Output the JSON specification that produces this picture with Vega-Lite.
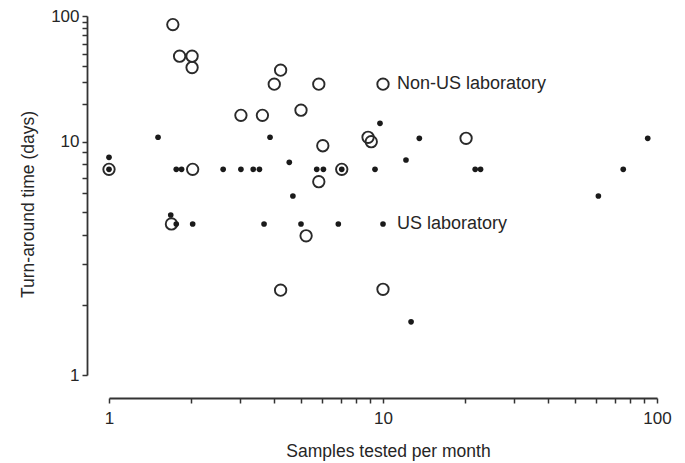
{
  "$schema": "https://vega.github.io/schema/vega-lite/v6.json",
  "width": 548,
  "height": 359,
  "autosize": {"type": "none"},
  "padding": {"left": 109, "top": 16, "right": 28, "bottom": 88},
  "background": "white",
  "config": {
    "view": {"stroke": null},
    "font": "Liberation Sans",
    "axis": {
      "domainColor": "#333",
      "domainWidth": 1.8,
      "tickColor": "#333",
      "tickWidth": 1.5,
      "tickSize": 5,
      "grid": false,
      "labelFont": "Liberation Sans",
      "labelFontSize": 17,
      "labelColor": "#262626",
      "titleFont": "Liberation Sans",
      "titleFontSize": 17.5,
      "titleFontWeight": "normal",
      "titleColor": "#262626"
    }
  },
  "datasets": {
    "nonus": [
      {"samples": 1.71, "tat": 85.4},
      {"samples": 1.81, "tat": 47.9},
      {"samples": 2.01, "tat": 47.9},
      {"samples": 2.01, "tat": 38.9},
      {"samples": 4.23, "tat": 37.1},
      {"samples": 4.01, "tat": 28.7},
      {"samples": 5.83, "tat": 28.7},
      {"samples": 3.03, "tat": 16.2},
      {"samples": 3.63, "tat": 16.2},
      {"samples": 5.02, "tat": 17.8},
      {"samples": 6.03, "tat": 9.61},
      {"samples": 8.82, "tat": 10.84},
      {"samples": 9.06, "tat": 10.0},
      {"samples": 1.0, "tat": 7.61},
      {"samples": 2.02, "tat": 7.61},
      {"samples": 7.07, "tat": 7.61},
      {"samples": 5.83, "tat": 6.74},
      {"samples": 1.69, "tat": 4.44},
      {"samples": 5.24, "tat": 3.95},
      {"samples": 4.23, "tat": 2.31},
      {"samples": 10.0, "tat": 2.33},
      {"samples": 20.1, "tat": 10.64}
    ],
    "us": [
      {"samples": 1.0, "tat": 8.57},
      {"samples": 1.0, "tat": 7.61},
      {"samples": 1.51, "tat": 10.84},
      {"samples": 1.76, "tat": 7.61},
      {"samples": 1.84, "tat": 7.61},
      {"samples": 2.61, "tat": 7.61},
      {"samples": 3.03, "tat": 7.61},
      {"samples": 3.36, "tat": 7.61},
      {"samples": 3.54, "tat": 7.61},
      {"samples": 3.87, "tat": 10.84},
      {"samples": 4.55, "tat": 8.16},
      {"samples": 5.73, "tat": 7.61},
      {"samples": 6.06, "tat": 7.61},
      {"samples": 7.07, "tat": 7.61},
      {"samples": 9.35, "tat": 7.61},
      {"samples": 9.75, "tat": 14.0},
      {"samples": 4.69, "tat": 5.85},
      {"samples": 1.68, "tat": 4.85},
      {"samples": 1.76, "tat": 4.44},
      {"samples": 2.02, "tat": 4.44},
      {"samples": 3.68, "tat": 4.44},
      {"samples": 5.02, "tat": 4.44},
      {"samples": 6.87, "tat": 4.44},
      {"samples": 12.66, "tat": 1.69},
      {"samples": 13.57, "tat": 10.64},
      {"samples": 12.13, "tat": 8.35},
      {"samples": 21.7, "tat": 7.61},
      {"samples": 22.7, "tat": 7.61},
      {"samples": 61.1, "tat": 5.85},
      {"samples": 75.3, "tat": 7.61},
      {"samples": 92.5, "tat": 10.64}
    ],
    "median": [{"tat": 10.9}],
    "legendNonUS": [{"samples": 10, "tat": 28.7, "label": "Non-US laboratory"}],
    "legendUS": [{"samples": 10, "tat": 4.44, "label": "US laboratory"}]
  },
  "encoding": {
    "x": {
      "field": "samples",
      "type": "quantitative",
      "title": "Samples tested per month",
      "scale": {"type": "log", "domain": [1, 100], "nice": false, "zero": false},
      "axis": {
        "offset": 23,
        "values": [1, 2, 3, 4, 5, 6, 7, 8, 9, 10, 20, 30, 40, 50, 60, 70, 80, 90, 100],
        "labelExpr": "datum.value == 1 || datum.value == 10 || datum.value == 100 ? format(datum.value, 'd') : ''",
        "labelPadding": 7,
        "titlePadding": 16,
        "titleX": 279,
        "labelFlush": false,
        "labelOverlap": false
      }
    },
    "y": {
      "field": "tat",
      "type": "quantitative",
      "title": "Turn-around time (days)",
      "scale": {"type": "log", "domain": [1, 10, 100], "range": [359, 125.7, 0], "nice": false, "zero": false},
      "axis": {
        "offset": 22,
        "values": [1, 2, 3, 4, 5, 6, 7, 8, 9, 10, 20, 30, 40, 50, 60, 70, 80, 90, 100],
        "labelExpr": "datum.value == 1 || datum.value == 10 || datum.value == 100 ? format(datum.value, 'd') : ''",
        "labelPadding": 3,
        "titlePadding": 13,
        "titleY": 188,
        "labelFlush": false,
        "labelOverlap": false
      }
    }
  },
  "layer": [
    {
      "data": {"name": "median"},
      "mark": {"type": "rule", "strokeDash": [6, 3.5], "strokeWidth": 1.6, "color": "#333", "clip": false},
      "encoding": {
        "x": {"datum": 0.89},
        "x2": {"datum": 105}
      }
    },
    {
      "data": {"name": "nonus"},
      "mark": {"type": "point", "shape": "circle", "filled": false, "size": 130, "strokeWidth": 1.9, "color": "#2a2a2a", "opacity": 1}
    },
    {
      "data": {"name": "us"},
      "mark": {"type": "circle", "size": 32, "color": "#1a1a1a", "opacity": 1}
    },
    {
      "data": {"name": "legendNonUS"},
      "mark": {"type": "point", "shape": "circle", "filled": false, "size": 130, "strokeWidth": 1.9, "color": "#2a2a2a", "opacity": 1}
    },
    {
      "data": {"name": "legendUS"},
      "mark": {"type": "circle", "size": 32, "color": "#1a1a1a", "opacity": 1}
    },
    {
      "data": {"name": "legendNonUS"},
      "mark": {"type": "text", "align": "left", "baseline": "middle", "dx": 14, "fontSize": 18, "color": "#262626", "font": "Liberation Sans"},
      "encoding": {"text": {"field": "label"}}
    },
    {
      "data": {"name": "legendUS"},
      "mark": {"type": "text", "align": "left", "baseline": "middle", "dx": 14, "fontSize": 18, "color": "#262626", "font": "Liberation Sans"},
      "encoding": {"text": {"field": "label"}}
    }
  ]
}
